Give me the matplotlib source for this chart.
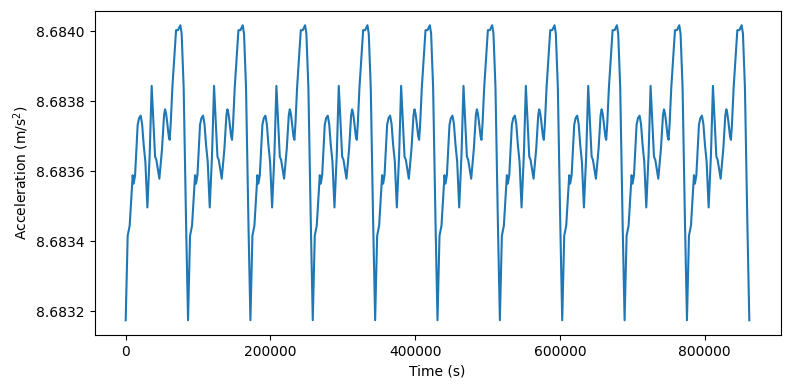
import numpy as np
import matplotlib
matplotlib.use("Agg")
import matplotlib.pyplot as plt
from matplotlib.ticker import ScalarFormatter

# One daily cycle (time offset in s, acceleration in m/s^2)
day_t = [0, 2760, 5520, 9670, 11050, 12980, 16570, 18500, 20720, 22700,
         24860, 27200, 28800, 29970, 33150, 35910, 40610, 42400, 46550,
         50280, 53000, 54420, 55800, 57180, 59500, 60770, 62200, 64500,
         69610, 72380, 75550, 77350, 80110, 83430]
day_a = [8.683175, 8.683416, 8.683445, 8.683589, 8.683565, 8.683589,
         8.683733, 8.683752, 8.683759, 8.683735, 8.683676, 8.683627,
         8.683550, 8.683497, 8.683647, 8.683844, 8.683642, 8.683633,
         8.683579, 8.683666, 8.683760, 8.683777, 8.683765, 8.683743,
         8.683700, 8.683690, 8.683735, 8.683839, 8.684003, 8.684003,
         8.684017, 8.683993, 8.683839, 8.683454]
period = 86164
n_days = 10

t = np.concatenate([np.array(day_t) + k * period for k in range(n_days)] + [[n_days * period]])
a = np.concatenate([day_a] * n_days + [[day_a[0]]])

fig, ax = plt.subplots(figsize=(7.9, 3.9), dpi=100)
ax.plot(t, a, color="#1f77b4")
ax.set_xlabel("Time (s)")
ax.set_ylabel("Acceleration (m/s$^2$)")
fmt = ScalarFormatter(useOffset=False)
ax.yaxis.set_major_formatter(fmt)
ax.set_yticks([8.6832, 8.6834, 8.6836, 8.6838, 8.6840])
ax.set_yticklabels(["8.6832", "8.6834", "8.6836", "8.6838", "8.6840"])
fig.subplots_adjust(left=94.5 / 790, right=780.5 / 790, top=1 - 10.5 / 390, bottom=1 - 335 / 390)
fig.savefig("out.png", dpi=100)
